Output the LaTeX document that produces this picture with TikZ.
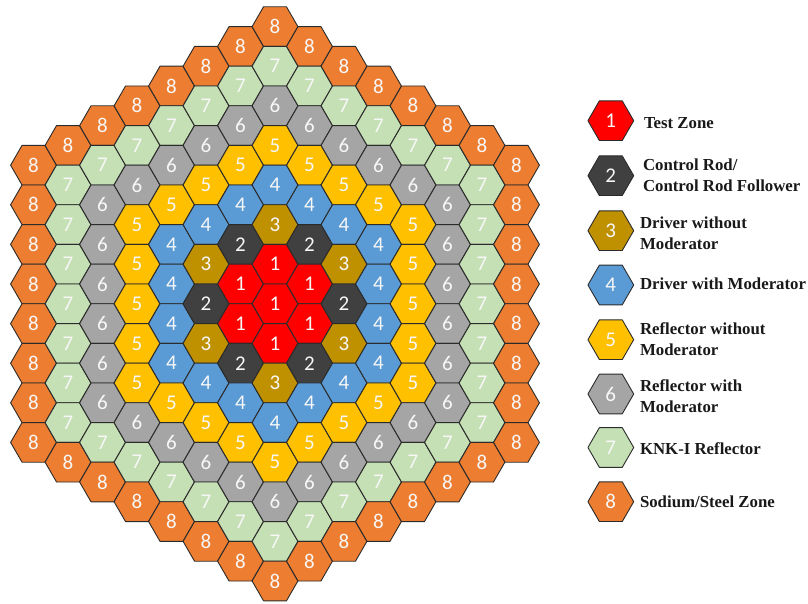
\documentclass[tikz,border=0pt]{standalone}
\usepackage{fontspec}
\setmainfont{Liberation Serif}
\newfontfamily\digitfont{Carlito}
\usetikzlibrary{shapes.geometric}
\definecolor{c1}{HTML}{FF0000}
\definecolor{c2}{HTML}{404040}
\definecolor{c3}{HTML}{BF9000}
\definecolor{c4}{HTML}{5B9BD5}
\definecolor{c5}{HTML}{FFC000}
\definecolor{c6}{HTML}{A5A5A5}
\definecolor{c7}{HTML}{C5E0B4}
\definecolor{c8}{HTML}{ED7D31}
\definecolor{edgecol}{HTML}{2B2B2B}
\definecolor{digitcol}{HTML}{F7F7F7}
\tikzset{
  hexcell/.style={regular polygon,regular polygon sides=6,minimum size=45.8pt,inner sep=0pt,outer sep=0pt,
    draw=edgecol,line width=0.9pt,line join=round,text=digitcol,font=\digitfont\fontsize{21}{21}\selectfont},
  legendtext/.style={anchor=west,align=left,inner sep=0pt,outer sep=0pt,text=black!90,
    font=\bfseries\fontsize{16.8}{20.7}\selectfont}
}
\begin{document}
\begin{tikzpicture}[x=1pt,y=1pt]
\useasboundingbox[fill=white] (0,0) rectangle (808,604);
\foreach \q in {-7,...,7}{
  \foreach \r in {-7,...,7}{
    \pgfmathtruncatemacro{\ring}{max(abs(\q),abs(\r),abs(\q+\r))}
    \ifnum\ring<8
      \pgfmathtruncatemacro{\corner}{(\q==0)||(\r==0)||(\q+\r==0)}
      \pgfmathtruncatemacro{\zone}{\ring==0 ? 1 : (\ring==1 ? 1 : (\ring==2 ? (\corner==1 ? 3 : 2) : \ring+1))}
      \node[hexcell,fill=c\zone] (cell\q_\r) at ({275+34.5*\q},{604-(303.8+39.6*\r+19.8*\q)}) {\zone};
    \fi
  }
}
\node[hexcell,fill=c1] (key1) at (610.8,{604-120.7}) {1};
\node[hexcell,fill=c2] (key2) at (610.8,{604-175.7}) {2};
\node[hexcell,fill=c3] (key3) at (610.8,{604-230.7}) {3};
\node[hexcell,fill=c4] (key4) at (610.8,{604-285}) {4};
\node[hexcell,fill=c5] (key5) at (610.8,{604-339.7}) {5};
\node[hexcell,fill=c6] (key6) at (610.8,{604-394}) {6};
\node[hexcell,fill=c7] (key7) at (610.8,{604-447.5}) {7};
\node[hexcell,fill=c8] (key8) at (610.8,{604-501.7}) {8};
\node[legendtext] (label1) at (644,{604-123}) {Test Zone};
\node[legendtext] (label2) at (643,{604-175.5}) {Control Rod/\\Control Rod Follower};
\node[legendtext] (label3) at (640,{604-233}) {Driver without\\Moderator};
\node[legendtext] (label4) at (640,{604-284}) {Driver with Moderator};
\node[legendtext] (label5) at (640,{604-339.5}) {Reflector without\\Moderator};
\node[legendtext] (label6) at (640,{604-396}) {Reflector with\\Moderator};
\node[legendtext] (label7) at (640,{604-449}) {KNK-I Reflector};
\node[legendtext] (label8) at (640,{604-501.7}) {Sodium/Steel Zone};
\end{tikzpicture}
\end{document}
